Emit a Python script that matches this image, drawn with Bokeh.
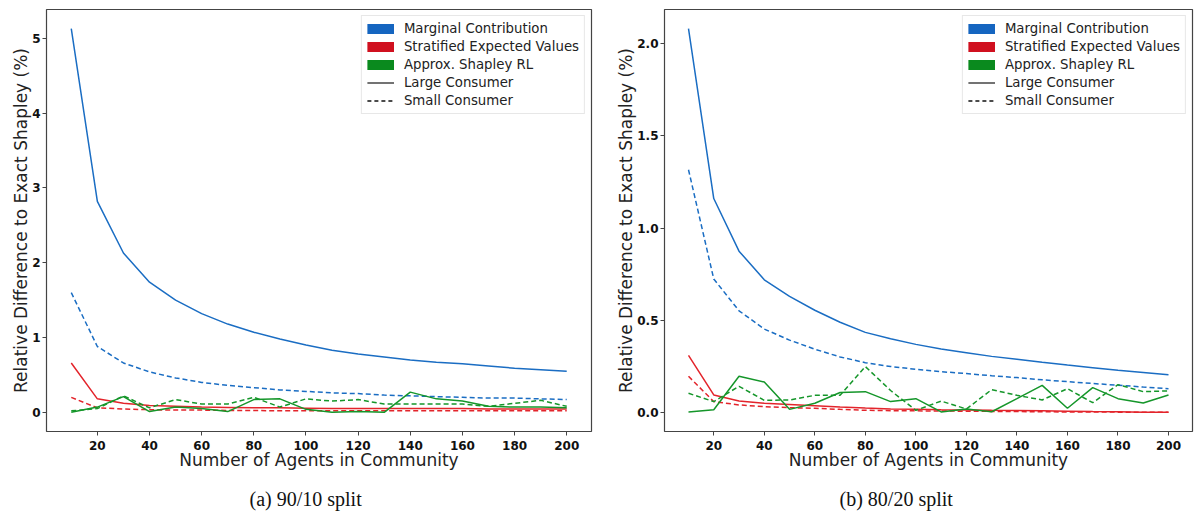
from bokeh.plotting import figure
from bokeh.layouts import row
from bokeh.models import Range1d, FixedTicker, Legend, LegendItem, Title, LinearAxis, PrintfTickFormatter
from bokeh.embed import file_html
from bokeh.resources import INLINE

agents = [10, 20, 30, 40, 50, 60, 70, 80, 90, 100, 110, 120, 130, 140, 150, 160, 170, 180, 190, 200]

# (a) 90/10 split
mc_large_a = [5.13, 2.82, 2.13, 1.74, 1.50, 1.32, 1.18, 1.07, 0.98, 0.90, 0.83, 0.78, 0.74, 0.70, 0.67, 0.65, 0.62, 0.59, 0.57, 0.55]
mc_small_a = [1.60, 0.88, 0.66, 0.54, 0.46, 0.40, 0.36, 0.33, 0.30, 0.28, 0.26, 0.25, 0.23, 0.22, 0.21, 0.20, 0.19, 0.19, 0.18, 0.17]
sev_large_a = [0.66, 0.18, 0.12, 0.09, 0.08, 0.07, 0.065, 0.06, 0.06, 0.055, 0.05, 0.05, 0.05, 0.05, 0.05, 0.05, 0.045, 0.045, 0.045, 0.045]
sev_small_a = [0.20, 0.06, 0.045, 0.035, 0.03, 0.03, 0.025, 0.025, 0.02, 0.02, 0.02, 0.02, 0.02, 0.02, 0.02, 0.02, 0.02, 0.02, 0.02, 0.02]
rl_large_a = [0.00, 0.07, 0.21, 0.01, 0.07, 0.05, 0.01, 0.17, 0.18, 0.04, 0.00, 0.01, 0.00, 0.27, 0.18, 0.15, 0.08, 0.07, 0.07, 0.06]
rl_small_a = [0.02, 0.05, 0.22, 0.06, 0.17, 0.11, 0.11, 0.20, 0.07, 0.18, 0.15, 0.17, 0.11, 0.11, 0.11, 0.11, 0.08, 0.12, 0.16, 0.08]

# (b) 80/20 split
mc_large_b = [2.08, 1.16, 0.875, 0.72, 0.63, 0.555, 0.49, 0.435, 0.40, 0.37, 0.345, 0.325, 0.305, 0.29, 0.273, 0.258, 0.244, 0.23, 0.218, 0.206]
mc_small_b = [1.316, 0.724, 0.552, 0.453, 0.393, 0.344, 0.302, 0.271, 0.25, 0.235, 0.222, 0.212, 0.20, 0.19, 0.178, 0.168, 0.158, 0.149, 0.139, 0.13]
sev_large_b = [0.31, 0.096, 0.063, 0.051, 0.045, 0.038, 0.031, 0.025, 0.02, 0.018, 0.016, 0.015, 0.013, 0.012, 0.01, 0.008, 0.006, 0.005, 0.003, 0.002]
sev_small_b = [0.197, 0.06, 0.042, 0.033, 0.027, 0.024, 0.018, 0.013, 0.011, 0.010, 0.009, 0.008, 0.007, 0.006, 0.005, 0.004, 0.004, 0.003, 0.003, 0.002]
rl_large_b = [0.004, 0.016, 0.197, 0.166, 0.018, 0.051, 0.109, 0.114, 0.06, 0.076, 0.004, 0.02, 0.005, 0.076, 0.148, 0.024, 0.136, 0.076, 0.052, 0.096]
rl_small_b = [0.105, 0.06, 0.143, 0.067, 0.069, 0.094, 0.094, 0.25, 0.12, 0.013, 0.063, 0.02, 0.125, 0.094, 0.069, 0.13, 0.054, 0.152, 0.114, 0.118]

method_labels = ["Marginal Contribution", "Stratified Expected Values", "Approx. Shapley RL"]
consumer_labels = ["Large Consumer", "Small Consumer"]
x_ticks = [20, 40, 60, 80, 100, 120, 140, 160, 180, 200]
y_ticks_a = [0, 1, 2, 3, 4, 5]
y_ticks_b = [0.0, 0.5, 1.0, 1.5, 2.0]
captions = ["(a) 90/10 split", "(b) 80/20 split"]

LINE_COLORS = ["#1a6dc3", "#e3242b", "#15962a"]
PATCH_COLORS = ["#1565c0", "#d0101f", "#0a8a1e"]
DASH = "5 3"
FONT = "DejaVu Sans"
NAN = float("nan")


def make_panel(series, y_ticks, y_fmt, caption, width, border_left, border_right, cap_offset):
    ymax = max(max(s) for s in series)
    ymin = min(min(s) for s in series)
    pad = 0.05 * (ymax - ymin)
    xpad = 0.05 * (agents[-1] - agents[0])
    p = figure(width=width, height=513, output_backend="svg", toolbar_location=None,
               x_range=Range1d(agents[0] - xpad, agents[-1] + xpad),
               y_range=Range1d(ymin - pad, ymax + pad),
               min_border_left=border_left, min_border_right=border_right,
               min_border_top=9, min_border_bottom=82)
    p.background_fill_color = "white"
    p.border_fill_color = "white"
    p.outline_line_color = "#444444"
    p.outline_line_width = 1.2
    p.xgrid.visible = False
    p.ygrid.visible = False
    for ax in (p.xaxis[0], p.yaxis[0]):
        ax.axis_line_color = None
        ax.major_tick_in = 0
        ax.major_tick_out = 4
        ax.major_tick_line_color = "#444444"
        ax.minor_tick_line_color = None
        ax.major_label_text_font = FONT
        ax.major_label_text_font_style = "bold"
        ax.major_label_text_font_size = "12px"
        ax.major_label_text_color = "#111111"
        ax.axis_label_text_font = FONT
        ax.axis_label_text_font_style = "normal"
        ax.axis_label_text_font_size = "17px"
        ax.axis_label_text_color = "#222222"
    p.xaxis.major_label_standoff = 5
    p.yaxis.major_label_standoff = 2
    p.xaxis.ticker = FixedTicker(ticks=x_ticks)
    p.yaxis.ticker = FixedTicker(ticks=y_ticks)
    p.yaxis.formatter = PrintfTickFormatter(format=y_fmt)
    p.xaxis.axis_label = "Number of Agents in Community"
    p.yaxis.axis_label = "Relative Difference to Exact Shapley (%)"
    p.xaxis.axis_label_standoff = -3
    p.yaxis.axis_label_standoff = -2

    for i in range(3):
        p.line(agents, series[2 * i], line_color=LINE_COLORS[i], line_width=1.5)
        p.line(agents, series[2 * i + 1], line_color=LINE_COLORS[i], line_width=1.5, line_dash=DASH)

    items = []
    for i in range(3):
        r = p.line(x=[NAN], y=[NAN], line_color=PATCH_COLORS[i], line_width=10, line_cap="butt")
        items.append(LegendItem(label=method_labels[i], renderers=[r]))
    r_solid = p.line(x=[NAN], y=[NAN], line_color="#444444", line_width=1.5)
    r_dash = p.line(x=[NAN], y=[NAN], line_color="#111111", line_width=1.5, line_dash="4 3")
    items.append(LegendItem(label=consumer_labels[0], renderers=[r_solid]))
    items.append(LegendItem(label=consumer_labels[1], renderers=[r_dash]))
    legend = Legend(items=items, location="top_right", margin=6, padding=5, spacing=3,
                    glyph_width=27, glyph_height=15, label_height=15, label_standoff=10,
                    label_text_font=FONT, label_text_font_size="13.3px", label_text_color="#222222",
                    border_line_color="#d0d0d0", border_line_width=1,
                    background_fill_color="white", background_fill_alpha=0.85)
    p.add_layout(legend)

    # invisible spacer axis between the axis label and the caption
    spacer = LinearAxis(ticker=FixedTicker(ticks=[agents[0]]), axis_line_color=None,
                        major_tick_in=0, major_tick_out=13, minor_tick_in=0, minor_tick_out=0,
                        major_label_standoff=0, major_label_overrides={agents[0]: ""},
                        major_tick_line_color="white", minor_tick_line_color=None)
    p.add_layout(spacer, "below")

    p.add_layout(Title(text=caption, align="left", offset=cap_offset, text_font="Liberation Serif",
                       text_font_size="20px", text_font_style="normal", text_color="#111111",
                       standoff=0), "below")
    return p


pa = make_panel([mc_large_a, mc_small_a, sev_large_a, sev_small_a, rl_large_a, rl_small_a],
                y_ticks_a, "%d", captions[0], 600, 46, 9, 203)
pb = make_panel([mc_large_b, mc_small_b, sev_large_b, sev_small_b, rl_large_b, rl_small_b],
                y_ticks_b, "%.1f", captions[1], 594, 64, 2, 175)

layout = row(pa, pb)
open("out.html", "w").write(file_html(layout, INLINE))
